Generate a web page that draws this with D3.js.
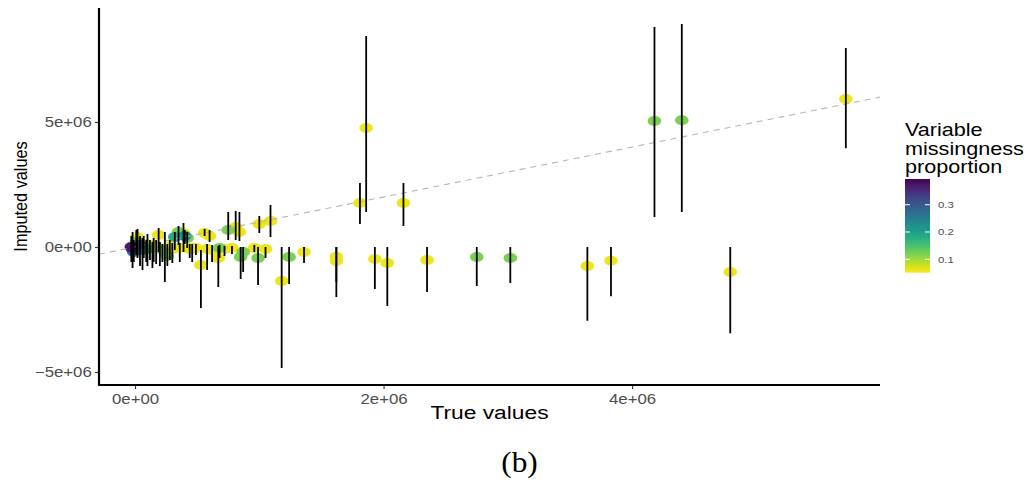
<!DOCTYPE html>
<html>
<head>
<meta charset="utf-8">
<script src="https://cdn.jsdelivr.net/npm/d3@7"></script>
<style>
  body { margin: 0; background: #ffffff; }
  svg { display: block; }
</style>
</head>
<body>
<svg id="chart" width="1035" height="481"></svg>
<script>
// True value, imputed value, interval bounds and missingness proportion per imputed cell
const trueValues = [
  -0.03e6, -0.02e6, -0.01e6, 0.01e6, 0.02e6, 0.04e6, 0.06e6, 0.07e6, 0.09e6, 0.10e6,
  0.12e6, 0.14e6, 0.15e6, 0.17e6, 0.19e6, 0.20e6, 0.22e6, 0.24e6, 0.26e6, 0.28e6,
  0.30e6, 0.32e6, 0.35e6, 0.36e6, 0.39e6, 0.40e6, 0.42e6, 0.44e6, 0.46e6, 0.49e6,
  0.53e6, 0.56e6, 0.58e6, 0.60e6, 0.62e6, 0.67e6, 0.68e6, 0.72e6, 0.75e6, 0.78e6,
  0.81e6, 0.84e6, 0.85e6, 0.87e6, 0.96e6, 0.99e6, 1.00e6, 1.05e6, 1.09e6, 1.18e6,
  1.24e6, 1.36e6, 1.62e6, 1.62e6, 1.81e6, 1.86e6, 1.93e6, 2.03e6, 2.16e6, 2.35e6,
  2.75e6, 3.02e6, 3.64e6, 3.83e6, 4.18e6, 4.40e6, 4.79e6, 5.72e6
];
const imputedValues = [
  0.00e6, -0.08e6, -0.20e6, 0.20e6, 0.40e6, 0.08e6, -0.12e6, 0.00e6, 0.12e6, -0.08e6,
  0.04e6, -0.04e6, 0.08e6, 0.00e6, 0.48e6, -0.04e6, -0.12e6, -0.20e6, -0.36e6, 0.04e6,
  -0.08e6, 0.40e6, 0.60e6, -0.04e6, 0.56e6, 0.44e6, 0.36e6, -0.08e6, -0.04e6, -0.04e6,
  -0.72e6, 0.56e6, -0.08e6, 0.44e6, -0.12e6, -0.44e6, -0.04e6, -0.08e6, 0.68e6, -0.04e6,
  0.80e6, 0.60e6, -0.40e6, -0.20e6, -0.04e6, -0.44e6, 0.92e6, -0.08e6, 1.04e6, -1.36e6,
  -0.40e6, -0.20e6, -0.39e6, -0.56e6, 1.76e6, 4.76e6, -0.48e6, -0.64e6, 1.76e6, -0.52e6,
  -0.40e6, -0.44e6, -0.76e6, -0.55e6, 5.04e6, 5.07e6, -1.00e6, 5.92e6
];
const lowerBounds = [
  -0.60e6, -0.84e6, -0.60e6, -0.32e6, -0.44e6, -0.76e6, -0.92e6, -0.44e6, -0.60e6, -0.76e6,
  -0.52e6, -0.84e6, -0.60e6, -0.68e6, -0.20e6, -0.76e6, -0.60e6, -1.40e6, -0.76e6, -0.52e6,
  -0.64e6, -0.12e6, 0.08e6, -0.60e6, -0.20e6, 0.12e6, -0.04e6, -0.44e6, -0.60e6, -0.32e6,
  -2.44e6, 0.44e6, -0.92e6, 0.20e6, -0.60e6, -1.60e6, -0.44e6, -0.36e6, 0.28e6, -0.28e6,
  0.28e6, 0.24e6, -1.28e6, -1.00e6, -0.20e6, -1.52e6, 0.56e6, -0.44e6, 0.40e6, -4.84e6,
  -1.48e6, -0.64e6, -1.40e6, -2.00e6, 0.92e6, 1.40e6, -1.68e6, -2.36e6, 0.84e6, -1.80e6,
  -1.56e6, -1.44e6, -2.95e6, -1.97e6, 1.20e6, 1.40e6, -3.45e6, 3.95e6
];
const upperBounds = [
  0.44e6, 0.60e6, 0.28e6, 0.68e6, 0.72e6, 0.44e6, 0.36e6, 0.44e6, 0.28e6, 0.52e6,
  0.28e6, 0.20e6, 0.36e6, 0.28e6, 0.76e6, 0.20e6, 0.12e6, 0.60e6, 0.12e6, 0.28e6,
  0.16e6, 0.60e6, 0.84e6, 0.16e6, 0.96e6, 0.68e6, 0.60e6, 0.12e6, 0.12e6, 0.12e6,
  -0.12e6, 0.72e6, 0.12e6, 0.68e6, 0.08e6, 0.04e6, 0.08e6, 0.04e6, 1.40e6, 0.04e6,
  1.44e6, 1.40e6, 0.00e6, 0.00e6, 0.08e6, 0.00e6, 1.24e6, 0.00e6, 1.68e6, 0.00e6,
  0.00e6, 0.00e6, 0.00e6, 0.00e6, 2.56e6, 8.44e6, 0.00e6, 0.00e6, 2.56e6, 0.00e6,
  0.00e6, 0.00e6, 0.00e6, 0.00e6, 8.80e6, 8.92e6, 0.00e6, 7.96e6
];
const missingProp = [
  0.37, 0.33, 0.24, 0.12, 0.06, 0.30, 0.20, 0.07, 0.06, 0.15,
  0.06, 0.06, 0.07, 0.06, 0.06, 0.06, 0.12, 0.06, 0.12, 0.06,
  0.06, 0.18, 0.12, 0.06, 0.06, 0.22, 0.12, 0.06, 0.06, 0.06,
  0.06, 0.06, 0.06, 0.06, 0.06, 0.06, 0.12, 0.06, 0.12, 0.06,
  0.06, 0.06, 0.12, 0.12, 0.06, 0.12, 0.06, 0.06, 0.06, 0.06,
  0.12, 0.06, 0.06, 0.06, 0.06, 0.06, 0.06, 0.06, 0.06, 0.06,
  0.12, 0.12, 0.06, 0.06, 0.12, 0.12, 0.06, 0.06
];

const xTicks = [0, 2e6, 4e6];
const xTickLabels = ["0e+00", "2e+06", "4e+06"];
const yTicks = [-5e6, 0, 5e6];
const yTickLabels = ["\u22125e+06", "0e+00", "5e+06"];
const legendTicks = [0.1, 0.2, 0.3];
const legendTickLabels = ["0.1", "0.2", "0.3"];
const propRange = [0.051, 0.394];

const rows = trueValues.map((v, i) => ({
  truth: v, imputed: imputedValues[i], lo: lowerBounds[i], hi: upperBounds[i], prop: missingProp[i]
}));

const svg = d3.select("#chart");
const panel = { left: 99, right: 880, top: 8, bottom: 385 };
const textStretch = 1.2;
const sans = "'Liberation Sans', Arial, Helvetica, sans-serif";

const x = d3.scaleLinear().domain([-0.29e6, 5.995e6]).range([panel.left, panel.right]);
const y = d3.scaleLinear().domain([-5.52e6, 9.56e6]).range([panel.bottom, panel.top]);
const colorPos = d3.scaleLinear().domain(propRange).range([1, 0]);
const colour = p => d3.interpolateViridis(colorPos(p));

svg.append("rect").attr("width", 1035).attr("height", 481).attr("fill", "#ffffff");

svg.append("defs").append("clipPath").attr("id", "panel-clip")
  .append("rect")
  .attr("x", panel.left).attr("y", panel.top)
  .attr("width", panel.right - panel.left).attr("height", panel.bottom - panel.top);

const plot = svg.append("g").attr("clip-path", "url(#panel-clip)");

// points, higher missingness drawn last
plot.append("g").selectAll("ellipse")
  .data(rows.slice().sort((a, b) => a.prop - b.prop))
  .join("ellipse")
  .attr("cx", d => x(d.truth))
  .attr("cy", d => y(d.imputed))
  .attr("rx", 6.8)
  .attr("ry", 5)
  .attr("fill", d => colour(d.prop));

// identity reference line
const xd = x.domain();
plot.append("line")
  .attr("x1", x(xd[0])).attr("y1", y(xd[0]))
  .attr("x2", x(xd[1])).attr("y2", y(xd[1]))
  .attr("stroke", "#b5b5b5")
  .attr("stroke-width", 1.1)
  .attr("stroke-dasharray", "6,5");

// interval ranges
plot.append("g").selectAll("line")
  .data(rows)
  .join("line")
  .attr("x1", d => x(d.truth)).attr("x2", d => x(d.truth))
  .attr("y1", d => y(d.lo)).attr("y2", d => y(d.hi))
  .attr("stroke", "#000000")
  .attr("stroke-width", 1.8);

// axes
const yAxis = svg.append("g")
  .attr("transform", `translate(${panel.left},0)`)
  .call(d3.axisLeft(y).tickValues(yTicks).tickFormat((d, i) => yTickLabels[i]).tickSize(4).tickPadding(2));
const xAxis = svg.append("g")
  .attr("transform", `translate(0,${panel.bottom})`)
  .call(d3.axisBottom(x).tickValues(xTicks).tickFormat((d, i) => xTickLabels[i]).tickSize(4).tickPadding(5));

[xAxis, yAxis].forEach(g => {
  g.select(".domain").remove();
  g.selectAll(".tick line").attr("stroke", "#333333").attr("stroke-width", 1.1);
  g.selectAll(".tick text")
    .attr("fill", "#4d4d4d")
    .attr("font-family", sans)
    .attr("font-size", 14)
    .attr("transform", `scale(${textStretch},1)`);
});

svg.append("line")
  .attr("x1", panel.left).attr("x2", panel.left)
  .attr("y1", panel.top).attr("y2", panel.bottom + 1)
  .attr("stroke", "#000000").attr("stroke-width", 2.2);
svg.append("line")
  .attr("x1", panel.left - 1).attr("x2", panel.right)
  .attr("y1", panel.bottom).attr("y2", panel.bottom)
  .attr("stroke", "#000000").attr("stroke-width", 2.2);

// axis titles
svg.append("text")
  .attr("transform", `translate(${(panel.left + panel.right) / 2},419) scale(${textStretch},1)`)
  .attr("text-anchor", "middle")
  .attr("font-family", sans)
  .attr("font-size", 19)
  .attr("fill", "#000000")
  .text("True values");

svg.append("text")
  .attr("transform", `translate(27,${(panel.top + panel.bottom) / 2}) rotate(-90) scale(0.88,1)`)
  .attr("text-anchor", "middle")
  .attr("font-family", sans)
  .attr("font-size", 18.5)
  .attr("fill", "#000000")
  .text("Imputed values");

// colour legend
const legend = svg.append("g");
["Variable", "missingness", "proportion"].forEach((t, i) => {
  legend.append("text")
    .attr("transform", `translate(905,${136 + i * 18.5}) scale(${textStretch},1)`)
    .attr("font-family", sans)
    .attr("font-size", 18)
    .attr("fill", "#000000")
    .text(t);
});

const barTop = 179, barBottom = 272.7, barLeft = 905, barWidth = 25;
const legendY = d3.scaleLinear().domain(propRange).range([barBottom, barTop]);
const grad = svg.select("defs").append("linearGradient")
  .attr("id", "viridis-bar")
  .attr("x1", 0).attr("y1", 1).attr("x2", 0).attr("y2", 0);
d3.range(0, 1.0001, 0.05).forEach(t => {
  grad.append("stop")
    .attr("offset", t)
    .attr("stop-color", colour(propRange[0] + t * (propRange[1] - propRange[0])));
});
legend.append("rect")
  .attr("x", barLeft).attr("y", barTop)
  .attr("width", barWidth).attr("height", barBottom - barTop)
  .attr("fill", "url(#viridis-bar)");

legend.selectAll(".tick-l")
  .data(legendTicks)
  .join("line")
  .attr("x1", barLeft).attr("x2", barLeft + 5)
  .attr("y1", d => legendY(d)).attr("y2", d => legendY(d))
  .attr("stroke", "#ffffff").attr("stroke-width", 1);
legend.selectAll(".tick-r")
  .data(legendTicks)
  .join("line")
  .attr("x1", barLeft + barWidth - 5).attr("x2", barLeft + barWidth)
  .attr("y1", d => legendY(d)).attr("y2", d => legendY(d))
  .attr("stroke", "#ffffff").attr("stroke-width", 1);
legend.selectAll(".tick-label")
  .data(legendTicks)
  .join("text")
  .attr("transform", d => `translate(938,${legendY(d)}) scale(${textStretch},1)`)
  .attr("dy", "0.35em")
  .attr("font-family", sans)
  .attr("font-size", 9.5)
  .attr("fill", "#4d4d4d")
  .text((d, i) => legendTickLabels[i]);

// panel caption
svg.append("text")
  .attr("transform", "translate(519.5,472) scale(1.08,1)")
  .attr("text-anchor", "middle")
  .attr("font-family", "'Liberation Serif', 'DejaVu Serif', serif")
  .attr("font-size", 29)
  .attr("fill", "#000000")
  .text("(b)");
</script>
</body>
</html>
